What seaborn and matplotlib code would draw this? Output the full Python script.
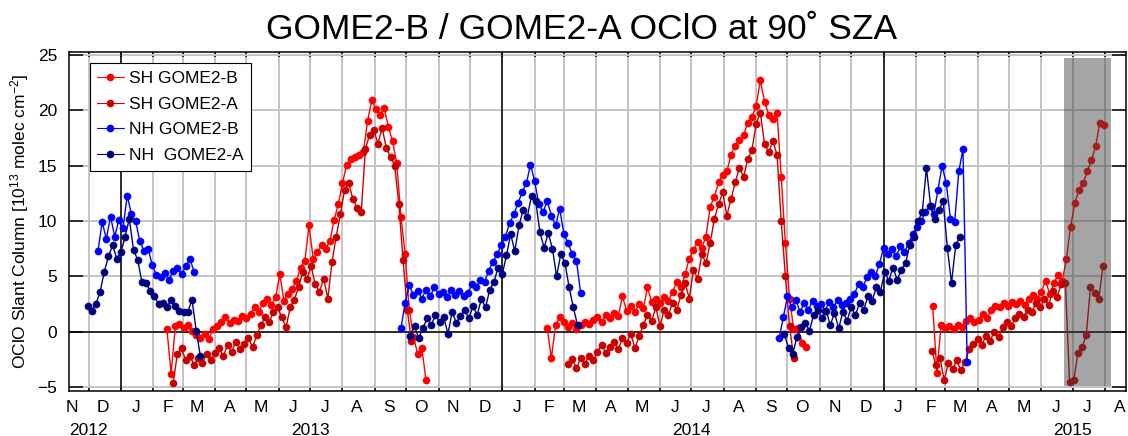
import pandas as pd
import seaborn as sns
import matplotlib.pyplot as plt
import matplotlib.dates as mdates
from matplotlib.lines import Line2D
from matplotlib.ticker import MultipleLocator, NullFormatter, FuncFormatter

# values, one every 4 days
step = '4D'

# SH GOME2-B
sh_b_2013_start = '2013-02-14'
sh_b_2013 = [0.2, -3.8, 0.5, 0.7,
             0.3, 0.6, 0.1, -0.3, -0.6, -0.2, -0.7, 0.2,
             0.5, 0.9, 1.3, 0.8, 1.1, 1.0, 1.4,
             1.2, 1.6, 2.2, 1.8, 2.6, 3.0, 2.4, 3.1,
             5.2, 2.8, 3.4, 3.9, 4.6, 5.8, 6.4, 9.6,
             6.6, 7.2, 7.8, 7.5, 8.2, 10.1, 11.5,
             13.4, 15.1, 15.6, 15.8, 16.0, 16.2, 19.0, 20.9,
             20.1, 19.6, 20.2, 18.5, 17.2, 15.2, 10.4, 7.0,
             2.0, -0.5, -2.0, -1.5, -4.4]
sh_b_2014_start = '2014-02-13'
sh_b_2014 = [0.3, -2.4, 0.6, 1.3,
             0.9, 0.4, 0.8, 0.2, 0.6, 0.9, 0.7, 1.1,
             1.3, 0.9, 1.5, 1.2, 1.7, 1.4, 3.2, 1.9,
             2.3, 1.8, 2.5, 2.1, 4.0, 2.7, 3.0,
             2.6, 3.1, 2.8, 3.6, 4.5, 4.0, 5.2, 6.6,
             7.4, 8.1, 7.6, 8.6, 11.3, 12.2, 13.5, 14.2,
             14.5, 16.0, 16.8, 17.3, 17.8, 18.9, 19.4,
             20.4, 22.7, 20.8, 19.6, 19.2, 19.8, 14.0, 8.0,
             3.0, 0.2, 0.3, -1.0, -1.4]
sh_b_2015_start = '2015-02-17'
sh_b_2015 = [2.3, -3.7, 0.6,
             0.3, 0.5, 0.2, 0.6, 0.4, 1.0, 1.2, 0.9,
             1.1, 1.6, 1.2, 2.0, 2.3, 2.2, 2.6, 2.3,
             2.7, 2.5, 2.8, 2.4, 3.0, 3.3, 3.0,
             3.6, 4.6, 3.4, 4.4, 5.1, 4.6, 6.6, 9.5,
             11.6, 12.8, 13.4, 14.5, 15.5, 16.8, 18.9, 18.7]

# SH GOME2-A
sh_a_2013_start = '2013-02-20'
sh_a_2013 = [-4.6, -2.0, -1.5,
             -2.6, -2.2, -3.0, -2.4, -2.8, -2.0, -2.6,
             -1.9, -1.5, -2.2, -1.2, -1.8, -0.9, -1.6, -1.1,
             -0.6, -1.4, -0.3, 0.6, 1.3, 0.9, 1.8, 2.2,
             1.3, 0.4, 2.2, 2.9, 4.0, 5.4, 4.8,
             5.9, 4.3, 3.6, 4.8, 3.0, 6.3, 8.6, 10.6,
             12.8, 13.4, 12.0, 11.2, 10.8, 16.5, 17.8, 18.2,
             17.0, 18.4, 16.6, 15.8, 15.0, 11.5, 6.5,
             2.0, -0.8]
sh_a_2014_start = '2014-03-05'
sh_a_2014 = [-2.9, -2.5, -3.3, -2.4, -2.9, -2.2, -2.6,
             -1.8, -1.2, -1.9, -1.4, -0.9, -1.6, -0.6, -1.0,
             -0.2, -1.5, -0.4, 0.6, 1.5, 1.0, 2.2,
             0.5, 2.0, 1.5, 2.6, 2.0, 3.3, 4.4, 3.0,
             5.6, 4.8, 7.0, 6.2, 8.0, 10.2, 11.5, 12.6,
             10.5, 12.0, 13.5, 14.8, 14.0, 15.6, 16.4,
             18.8, 19.8, 17.0, 16.2, 17.2, 16.0, 10.0, 5.0,
             0.5, -2.4]
sh_a_2015_start = '2015-02-16'
sh_a_2015 = [-1.7, -3.0, -2.4, -4.4,
             -2.8, -3.4, -2.6, -3.5, -2.7, -1.6, -1.1,
             -0.7, -1.2, -0.4, -0.8, 0.0, -0.5, 0.4, 0.9,
             0.5, 1.2, 1.6, 1.3, 2.0, 1.8, 2.6, 2.2,
             3.0, 2.4, 3.7, 3.1, 4.3, 4.4, -4.5,
             -4.4, -1.9, -1.4, -0.3, 4.0, 3.5, 3.0, 5.9]

# NH GOME2-B
nh_b_2012_start = '2012-12-10'
nh_b_2012 = [7.3, 9.9, 8.4, 10.4, 8.6, 10.1, 9.4, 12.3, 10.6, 10.0, 8.2, 7.3,
             7.5, 6.0, 5.1, 4.9, 5.3, 4.7, 5.5, 5.8, 5.2, 5.9, 6.6, 5.4]
nh_b_2013_start = '2013-09-26'
nh_b_2013 = [0.3, 2.6, 4.2, 3.3, 3.7, 3.0, 3.8, 3.2, 4.0,
             3.4, 3.6, 3.1, 3.8, 3.3, 3.7, 3.2, 3.5,
             4.3, 4.0, 4.7, 4.5, 5.5, 6.3, 7.0, 7.8,
             8.6, 9.8, 10.6, 11.6, 12.6, 13.4, 15.1,
             13.6, 11.5, 10.8, 11.8, 10.5, 9.6, 11.1,
             8.8, 8.0, 7.0, 6.4, 3.5]
nh_b_2014_start = '2014-09-23'
nh_b_2014 = [-0.6, 1.3, 3.2, 2.2, 2.9, 1.8, 2.6, 2.0, 2.8, 2.3,
             2.5, 1.9, 2.7, 2.2, 2.9, 2.4, 2.6, 3.0,
             3.4, 4.3, 4.0, 4.9, 5.4, 5.0, 6.1,
             7.6, 7.0, 7.5, 6.8, 7.7, 7.2, 8.0, 8.8,
             9.5, 10.0, 10.8, 11.4, 10.6, 12.8, 15.0,
             13.4, 10.2, 9.9, 14.5, 16.5, -2.7]

# NH GOME2-A
nh_a_2012_start = '2012-11-30'
nh_a_2012 = [2.3, 1.9, 2.5, 3.6, 5.4, 6.8, 7.8, 6.6, 7.2, 8.6, 10.2, 7.4, 6.5, 4.5,
             4.4, 3.7, 3.2, 2.5, 2.6, 2.2, 2.9, 2.3, 1.9, 1.8, 1.8, 2.9, 0.1, -2.2]
nh_a_2013_start = '2013-10-05'
nh_a_2013 = [-0.4, 0.5, -0.6, 0.3, 1.2, 0.6, 1.5,
             0.9, 1.3, -0.2, 1.8, 0.8, 1.4, 2.0, 1.2,
             2.3, 1.5, 3.0, 2.2, 3.8, 4.5, 5.8,
             5.2, 6.9, 8.8, 7.3, 9.6, 11.0, 10.4, 12.3,
             11.8, 9.0, 7.6, 8.9, 7.5, 5.0, 7.0,
             6.2, 4.0, 2.2, 0.6]
nh_a_2014_start = '2014-09-28'
nh_a_2014 = [-0.2,
             -1.5, -2.0, -0.5, 0.4, 0.8, 0.1, 1.5, 2.0,
             1.2, 1.9, 0.6, 1.7, 0.3, 1.8, 1.0,
             2.2, 1.5, 2.6, 2.0, 3.2, 2.8, 4.0, 3.6,
             5.4, 4.6, 5.8, 4.7, 5.6, 6.2, 7.8, 8.6,
             10.0, 10.8, 14.8, 11.4, 10.2, 11.0, 11.8,
             7.6, 4.4, 7.8, 8.6]

labels = ['SH GOME2-B', 'SH GOME2-A', 'NH GOME2-B', 'NH  GOME2-A']
colors = ['#ff0000', '#c80000', '#0000ff', '#000080']

year_labels = ['2012', '2013', '2014', '2015']
year_label_dates = ['2012-12-01', '2013-07-01', '2014-07-01', '2015-07-01']
year_starts = ['2013-01-01', '2014-01-01', '2015-01-01']

shade_start, shade_end = '2015-06-23', '2015-08-07'
shade_low, shade_high = -4.9, 24.7


def season(start, vals, name, unit):
    return pd.DataFrame({'date': pd.date_range(start, periods=len(vals), freq=step),
                         'value': vals, 'series': name, 'season': unit})


df = pd.concat([
    season(sh_b_2013_start, sh_b_2013, labels[0], 1),
    season(sh_b_2014_start, sh_b_2014, labels[0], 2),
    season(sh_b_2015_start, sh_b_2015, labels[0], 3),
    season(sh_a_2013_start, sh_a_2013, labels[1], 1),
    season(sh_a_2014_start, sh_a_2014, labels[1], 2),
    season(sh_a_2015_start, sh_a_2015, labels[1], 3),
    season(nh_b_2012_start, nh_b_2012, labels[2], 1),
    season(nh_b_2013_start, nh_b_2013, labels[2], 2),
    season(nh_b_2014_start, nh_b_2014, labels[2], 3),
    season(nh_a_2012_start, nh_a_2012, labels[3], 1),
    season(nh_a_2013_start, nh_a_2013, labels[3], 2),
    season(nh_a_2014_start, nh_a_2014, labels[3], 3),
], ignore_index=True)

sns.set_style('white')
plt.rcParams['font.family'] = ['Liberation Sans', 'DejaVu Sans']
plt.rcParams['mathtext.default'] = 'regular'
for k in ['text.color', 'axes.labelcolor', 'xtick.color', 'ytick.color']:
    plt.rcParams[k] = 'black'

fig = plt.figure(figsize=(11.28, 4.36), dpi=100)
ax = fig.add_axes([0.0614, 0.1039, 0.9368, 0.7775])

for name, col in zip(labels, colors):
    sns.lineplot(data=df[df['series'] == name], x='date', y='value', units='season',
                 estimator=None, color=col, marker='o', markersize=5.2,
                 markeredgecolor=col, markeredgewidth=0.3, linewidth=1.0,
                 ax=ax, legend=False)

ax.set_xlim(pd.Timestamp('2012-11-12 12:00'), pd.Timestamp('2015-08-21'))
ax.set_ylim(-5.33, 25.3)

ax.xaxis.set_major_locator(mdates.MonthLocator())
ax.xaxis.set_major_formatter(NullFormatter())
ax.xaxis.set_minor_locator(mdates.MonthLocator(bymonthday=15))
ax.xaxis.set_minor_formatter(FuncFormatter(lambda v, pos: mdates.num2date(v).strftime('%b')[0]))
ax.yaxis.set_major_locator(MultipleLocator(5))

ax.tick_params(axis='x', which='major', direction='in', length=3.5, width=1.1,
               bottom=True, top=True, color='black')
ax.tick_params(axis='x', which='minor', length=0, labelsize=12.5, pad=7)
ax.tick_params(axis='y', direction='in', length=10, width=1.1, left=True, right=True,
               labelsize=12.5, pad=8.5, color='black')

ax.grid(True, which='major', color='#c4c4c4', linewidth=1.4)
ax.set_axisbelow(True)
for d in year_starts:
    ax.axvline(pd.Timestamp(d), color='black', lw=1.1, zorder=1.5)
ax.axhline(0, color='black', lw=1.1, zorder=1.5)

ax.fill_between(pd.to_datetime([shade_start, shade_end]), shade_low, shade_high,
                color='#404040', alpha=0.47, lw=0, zorder=3)

for s in ax.spines.values():
    s.set_linewidth(1.1)
    s.set_color('black')

ax.set_xlabel('')
ax.set_ylabel('OClO Slant Column [10$^{13}$ molec cm$^{-2}$]', fontsize=12.5)
ax.yaxis.set_label_coords(-0.036, 0.5)

for lab, d in zip(year_labels, year_label_dates):
    ax.text(mdates.date2num(pd.Timestamp(d)), -0.095, lab, transform=ax.get_xaxis_transform(),
            ha='center', va='top', fontsize=12.5)

handles = [Line2D([], [], color=c, marker='o', markersize=4.5, lw=0.8) for c in colors]
leg = ax.legend(handles, labels, loc='upper left', bbox_to_anchor=(0.0193, 0.9658),
                borderaxespad=0, fontsize=12.5, frameon=True, fancybox=False,
                edgecolor='black', framealpha=1, handlelength=1.5, handletextpad=0.3,
                labelspacing=0.6, borderpad=0.45)
leg.get_frame().set_linewidth(0.8)
leg.set_zorder(10)

fig.text(0.516, 0.9106, 'GOME2-B / GOME2-A OClO at 90˚ SZA', ha='center', va='baseline',
         fontsize=25.5)

fig.savefig('out.png', dpi=100)
